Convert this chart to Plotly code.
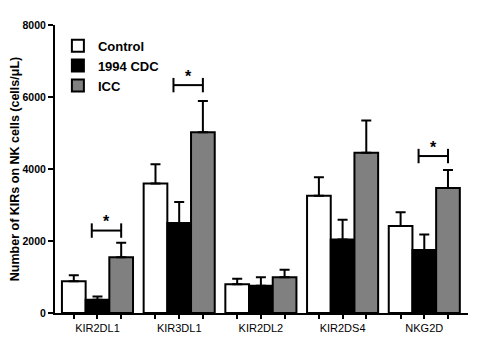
import plotly.graph_objects as go

groups = ["KIR2DL1", "KIR3DL1", "KIR2DL2", "KIR2DS4", "NKG2D"]
control = [880, 3600, 800, 3260, 2420]
control_err = [170, 530, 150, 510, 380]
cdc = [370, 2500, 760, 2040, 1750]
cdc_err = [90, 580, 230, 550, 430]
icc = [1550, 5020, 990, 4450, 3470]
icc_err = [400, 870, 210, 900, 500]
y_ticks = [0, 2000, 4000, 6000, 8000]

# significance brackets: group index, y level
sig_groups = [0, 1, 4]
sig_levels = [2290, 6330, 4360]

w = 0.29
offsets = [-w, 0.0, w]
series = [
    ("Control", control, control_err, "white"),
    ("1994 CDC", cdc, cdc_err, "black"),
    ("ICC", icc, icc_err, "#808080"),
]

FONT = "Arial, Liberation Sans, sans-serif"
fig = go.Figure()
for (name, vals, errs, color), off in zip(series, offsets):
    fig.add_trace(go.Bar(
        name=name,
        x=[i + off for i in range(len(groups))],
        y=vals,
        width=w,
        marker=dict(color=color, line=dict(color="black", width=2)),
        error_y=dict(type="data", array=errs, arrayminus=[0] * len(errs),
                     symmetric=False, color="black", thickness=2, width=5),
    ))

tickvals, ticktext = [], []
for i, g in enumerate(groups):
    for off in offsets:
        tickvals.append(i + off)
        ticktext.append(g if off == 0 else "")

for gi, lvl in zip(sig_groups, sig_levels):
    x0, x1 = gi - 0.07, gi + w
    fig.add_shape(type="line", x0=x0, x1=x1, y0=lvl, y1=lvl, xref="x", yref="y",
                  line=dict(color="black", width=2))
    for xx in (x0, x1):
        fig.add_shape(type="line", x0=xx, x1=xx, y0=lvl - 200, y1=lvl + 200,
                      xref="x", yref="y", line=dict(color="black", width=2))
    fig.add_annotation(x=(x0 + x1) / 2, y=lvl, yshift=9, text="*", showarrow=False,
                       font=dict(family=FONT, size=16, color="black", weight="bold"))

fig.update_layout(
    width=500, height=352,
    margin=dict(l=47, r=40, t=17, b=47),
    paper_bgcolor="white", plot_bgcolor="white",
    barmode="overlay",
    showlegend=True,
    legend=dict(x=0.007, y=0.98, xanchor="left", yanchor="top",
                font=dict(family=FONT, size=13, color="black", weight="bold"),
                bgcolor="rgba(0,0,0,0)", tracegroupgap=0),
    font=dict(family=FONT, color="black"),
)
fig.update_xaxes(
    range=[-0.52, len(groups) - 1 + 0.535],
    tickvals=tickvals, ticktext=ticktext, automargin=False,
    showline=True, linewidth=2, linecolor="black",
    ticks="outside", ticklen=4, tickwidth=2, tickcolor="black",
    showgrid=False, zeroline=False,
    tickfont=dict(family=FONT, size=11, color="black"),
)
fig.update_yaxes(
    range=[0, 8000], tickvals=y_ticks, automargin=False,
    showline=True, linewidth=2, linecolor="black",
    ticks="outside", ticklen=5, tickwidth=2, tickcolor="black",
    showgrid=False, zeroline=False,
    tickfont=dict(family=FONT, size=10.5, color="black", weight="bold"),
    title=dict(text="Number of KIRs on NK cells (cells/μL)", standoff=6,
               font=dict(family=FONT, size=12.5, color="black", weight="bold")),
)
fig.write_html("out.html")
